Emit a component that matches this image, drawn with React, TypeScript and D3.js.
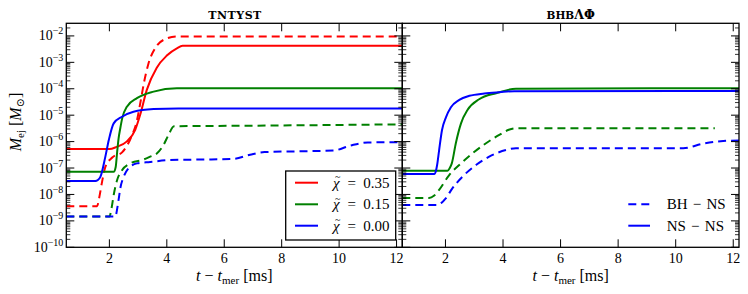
import React from 'react';
import * as d3 from 'd3';

// ---- values: time after merger [ms], ejecta mass [Msun] ----

// TNTYST panel
const tntRedBhnsT = [0.5, 1.57, 1.65, 1.75, 1.86, 2.1, 2.45, 2.75, 2.96, 3.1, 3.2, 3.36, 3.6, 3.95, 4.35, 12.2];
const tntRedBhnsM = [3.6e-9, 3.6e-9, 7.9e-9, 3.2e-8, 1.1e-7, 2.5e-7, 4.0e-7, 1.4e-6, 6.3e-6, 4.0e-5, 1.6e-4, 8.9e-4, 3.5e-3, 7.6e-3, 9.5e-3, 9.5e-3];
const tntRedNsnsT = [0.5, 2.0, 2.25, 2.6, 2.9, 3.08, 3.3, 3.65, 4.0, 4.35, 4.55, 12.2];
const tntRedNsnsM = [5.2e-7, 5.2e-7, 6.3e-7, 1.0e-6, 2.8e-6, 1.1e-5, 8.9e-5, 6.3e-4, 1.8e-3, 3.4e-3, 4.2e-3, 4.2e-3];

const tntGreenBhnsT = [0.5, 2.0, 2.08, 2.15, 2.27, 2.44, 2.73, 3.19, 3.42, 3.66, 3.89, 4.06, 4.25, 7.0, 12.2];
const tntGreenBhnsM = [1.45e-9, 1.45e-9, 3.2e-9, 9.5e-9, 3.5e-8, 8.3e-8, 1.5e-7, 2.1e-7, 2.7e-7, 3.6e-7, 7.6e-7, 1.8e-6, 3.8e-6, 4.0e-6, 4.5e-6];
const tntGreenNsnsT = [0.5, 2.15, 2.22, 2.27, 2.32, 2.38, 2.45, 2.61, 2.96, 3.54, 4.35, 4.55, 12.2];
const tntGreenNsnsM = [7.2e-8, 7.2e-8, 1.1e-7, 4.0e-7, 1.3e-6, 3.2e-6, 7.9e-6, 2.1e-5, 4.4e-5, 7.8e-5, 1.05e-4, 1.05e-4, 1.05e-4];

const tntBlueBhnsT = [0.5, 2.2, 2.32, 2.38, 2.5, 2.67, 2.96, 3.42, 4.12, 5.2, 6.3, 6.9, 7.4, 8.6, 9.8, 10.4, 11.0, 12.2];
const tntBlueBhnsM = [1.45e-9, 1.45e-9, 6.2e-9, 1.7e-8, 4.7e-8, 9.8e-8, 1.5e-7, 1.7e-7, 2.0e-7, 2.1e-7, 2.2e-7, 3.2e-7, 4.0e-7, 4.3e-7, 4.6e-7, 7.1e-7, 9.3e-7, 9.5e-7];
const tntBlueNsnsT = [0.5, 1.51, 1.6, 1.69, 1.86, 1.98, 2.15, 2.44, 2.84, 3.54, 4.4, 12.2];
const tntBlueNsnsM = [3.2e-8, 3.2e-8, 3.5e-8, 4.7e-8, 2.7e-7, 1.15e-6, 4.9e-6, 8.7e-6, 1.35e-5, 1.7e-5, 1.8e-5, 1.8e-5];

// BHBΛΦ panel
const bhbGreenBhnsT = [0.5, 1.43, 1.6, 1.78, 2.13, 2.54, 2.94, 3.41, 3.87, 4.2, 4.45, 11.36];
const bhbGreenBhnsM = [7.4e-9, 7.4e-9, 8.9e-9, 1.5e-8, 5.4e-8, 1.5e-7, 3.6e-7, 8.7e-7, 1.8e-6, 2.8e-6, 3.2e-6, 3.2e-6];
const bhbGreenNsnsT = [0.5, 2.07, 2.15, 2.22, 2.36, 2.54, 2.77, 3.17, 3.76, 4.45, 12.2];
const bhbGreenNsnsM = [7.9e-8, 7.9e-8, 1.0e-7, 1.5e-7, 8.7e-7, 4.9e-6, 1.6e-5, 4.0e-5, 6.8e-5, 1.0e-4, 1.05e-4];

const bhbBlueBhnsT = [0.5, 1.72, 1.85, 2.01, 2.24, 2.59, 3.06, 3.52, 4.1, 4.45, 10.26, 10.95, 11.65, 12.2];
const bhbBlueBhnsM = [4.0e-9, 4.0e-9, 4.7e-9, 7.1e-9, 1.7e-8, 4.7e-8, 1.3e-7, 2.7e-7, 4.8e-7, 5.6e-7, 5.6e-7, 8.3e-7, 1.05e-6, 1.1e-6];
const bhbBlueNsnsT = [0.5, 1.61, 1.67, 1.71, 1.78, 1.88, 2.02, 2.19, 2.48, 2.83, 3.35, 3.87, 4.39, 12.2];
const bhbBlueNsnsM = [5.9e-8, 5.9e-8, 7.9e-8, 1.3e-7, 4.8e-7, 2.75e-6, 8.5e-6, 2.0e-5, 3.8e-5, 5.4e-5, 6.6e-5, 7.4e-5, 8.1e-5, 8.3e-5];

const xTicks = [2, 4, 6, 8, 10, 12];
const yTickExps = [-10, -9, -8, -7, -6, -5, -4, -3, -2];
const spinLabels = ['0.35', '0.15', '0.00'];
const binaryLabels = ['BH − NS', 'NS − NS'];

const RED = '#ff0000';
const GREEN = '#008000';
const BLUE = '#0000ff';
const DASH = '8,5';

type Series = { t: number[]; m: number[]; color: string; dashed: boolean };

const tntSeries: Series[] = [
  { t: tntRedBhnsT, m: tntRedBhnsM, color: RED, dashed: true },
  { t: tntGreenBhnsT, m: tntGreenBhnsM, color: GREEN, dashed: true },
  { t: tntBlueBhnsT, m: tntBlueBhnsM, color: BLUE, dashed: true },
  { t: tntRedNsnsT, m: tntRedNsnsM, color: RED, dashed: false },
  { t: tntGreenNsnsT, m: tntGreenNsnsM, color: GREEN, dashed: false },
  { t: tntBlueNsnsT, m: tntBlueNsnsM, color: BLUE, dashed: false },
];

const bhbSeries: Series[] = [
  { t: bhbGreenBhnsT, m: bhbGreenBhnsM, color: GREEN, dashed: true },
  { t: bhbBlueBhnsT, m: bhbBlueBhnsM, color: BLUE, dashed: true },
  { t: bhbGreenNsnsT, m: bhbGreenNsnsM, color: GREEN, dashed: false },
  { t: bhbBlueNsnsT, m: bhbBlueNsnsM, color: BLUE, dashed: false },
];

const SERIF = { fontFamily: 'Liberation Serif, DejaVu Serif, serif' };
const SLAB = { fontFamily: 'DejaVu Serif, serif' };
const top = 23.3;
const bottom = 247.3;

const yScale = d3.scaleLog().domain([1e-10, 3e-2]).range([bottom, top]);

const minorTicks: number[] = [];
for (let e = -11; e <= -2; e++) {
  for (let k = 2; k <= 9; k++) {
    const v = k * Math.pow(10, e);
    if (v > 1e-10 && v < 3e-2) minorTicks.push(v);
  }
}

function Panel({ id, x0, x1, series, title, showYLabels }: {
  id: string; x0: number; x1: number; series: Series[]; title: React.ReactNode; showYLabels: boolean;
}) {
  const x = d3.scaleLinear().domain([0.5, 12.2]).range([x0, x1]);
  const line = d3
    .line<[number, number]>()
    .x((d) => x(d[0]))
    .y((d) => yScale(d[1]))
    .curve(d3.curveMonotoneX);
  const major = 8;
  const minor = 4;
  const cx = (x0 + x1) / 2;

  return (
    <g>
      <defs>
        <clipPath id={id}>
          <rect x={x0} y={top} width={x1 - x0} height={bottom - top} />
        </clipPath>
      </defs>
      <g clipPath={`url(#${id})`}>
        {series.map((s, i) => (
          <path
            key={i}
            d={line(s.t.map((t, j) => [t, s.m[j]] as [number, number])) || ''}
            fill="none"
            stroke={s.color}
            strokeWidth={2}
            strokeDasharray={s.dashed ? DASH : undefined}
          />
        ))}
      </g>

      {/* x ticks, top and bottom, pointing in */}
      {xTicks.map((t) => (
        <g key={t}>
          <line x1={x(t)} x2={x(t)} y1={bottom} y2={bottom - major} stroke="#000" strokeWidth={1} />
          <line x1={x(t)} x2={x(t)} y1={top} y2={top + major} stroke="#000" strokeWidth={1} />
          <text x={x(t)} y={263} textAnchor="middle" style={SERIF} fontSize={14}>
            {t}
          </text>
        </g>
      ))}

      {/* y ticks on both sides */}
      {yTickExps.map((e) => {
        const yy = yScale(Math.pow(10, e));
        return (
          <g key={e}>
            <line x1={x0} x2={x0 + major} y1={yy} y2={yy} stroke="#000" strokeWidth={1} />
            <line x1={x1} x2={x1 - major} y1={yy} y2={yy} stroke="#000" strokeWidth={1} />
            {showYLabels && (
              <text x={x0 - 3} y={yy + 4.5} textAnchor="end" style={SERIF} fontSize={14}>
                <tspan>10</tspan>
                <tspan dy={-6} fontSize={10}>{`−${-e}`}</tspan>
              </text>
            )}
          </g>
        );
      })}
      {minorTicks.map((v, i) => {
        const yy = yScale(v);
        return (
          <g key={'m' + i}>
            <line x1={x0} x2={x0 + minor} y1={yy} y2={yy} stroke="#000" strokeWidth={0.8} />
            <line x1={x1} x2={x1 - minor} y1={yy} y2={yy} stroke="#000" strokeWidth={0.8} />
          </g>
        );
      })}

      <rect x={x0} y={top} width={x1 - x0} height={bottom - top} fill="none" stroke="#000" strokeWidth={1.3} />

      {title}

      <text x={cx} y={281} textAnchor="middle" style={SERIF} fontSize={16}>
        <tspan fontStyle="italic">t</tspan>
        <tspan> − </tspan>
        <tspan fontStyle="italic">t</tspan>
        <tspan dy={3} fontSize={11}>mer</tspan>
        <tspan dy={-3}> [ms]</tspan>
      </text>
    </g>
  );
}

export default function App() {
  const colors = [RED, GREEN, BLUE];
  const legendRows = [182.7, 204.3, 225.7];

  return (
    <svg
      width={748}
      height={294}
      viewBox="0 0 748 294"
      style={{ position: 'absolute', left: 0, top: 0, background: '#fff' }}
    >
      <rect x={0} y={0} width={748} height={294} fill="#fff" />

      <Panel
        id="clip-tnt"
        x0={66.3}
        x1={402.3}
        series={tntSeries}
        title={
          <text x={208.3} y={18.7} style={SLAB} fontWeight="bold" fontSize={11} textLength={53} lengthAdjust="spacing">
            TNTYST
          </text>
        }
        showYLabels
      />
      <Panel
        id="clip-bhb"
        x0={402.3}
        x1={739}
        series={bhbSeries}
        title={
          <text x={570.7} y={18.7} textAnchor="middle" style={SLAB} fontWeight="bold" fontSize={10.5}>
            <tspan>BHB</tspan>
            <tspan fontSize={12.5}>ΛΦ</tspan>
          </text>
        }
        showYLabels={false}
      />

      {/* y axis label */}
      <text transform="translate(21,122) rotate(-90)" textAnchor="middle" style={SERIF} fontSize={16}>
        <tspan fontStyle="italic">M</tspan>
        <tspan dy={3} fontSize={11}>ej</tspan>
        <tspan dy={-3}> [</tspan>
        <tspan fontStyle="italic">M</tspan>
        <tspan dy={3} fontSize={11}>⊙</tspan>
        <tspan dy={-3}>]</tspan>
      </text>

      {/* spin legend, left panel */}
      <rect x={285.7} y={171} width={110} height={69} fill="#fff" stroke="#000" strokeWidth={1.3} />
      {spinLabels.map((s, i) => (
        <g key={s}>
          <line x1={295} x2={318} y1={legendRows[i]} y2={legendRows[i]} stroke={colors[i]} strokeWidth={2} />
          <text x={333} y={legendRows[i] + 5} style={SERIF} fontSize={15}>
            <tspan fontStyle="italic">χ</tspan>
            <tspan x={335} dy={-7.5} fontSize={10}>~</tspan>
            <tspan x={347.5} dy={7.5}>=</tspan>
            <tspan x={363.3}>{s}</tspan>
          </text>
        </g>
      ))}

      {/* binary type legend, right panel */}
      {binaryLabels.map((s, i) => (
        <g key={s}>
          <line
            x1={628.3}
            x2={650}
            y1={legendRows[i + 1]}
            y2={legendRows[i + 1]}
            stroke={BLUE}
            strokeWidth={2}
            strokeDasharray={i === 0 ? DASH : undefined}
          />
          <text x={666.7} y={legendRows[i + 1] + 5} style={SERIF} fontSize={15} wordSpacing={1.5}>
            {s}
          </text>
        </g>
      ))}
    </svg>
  );
}
